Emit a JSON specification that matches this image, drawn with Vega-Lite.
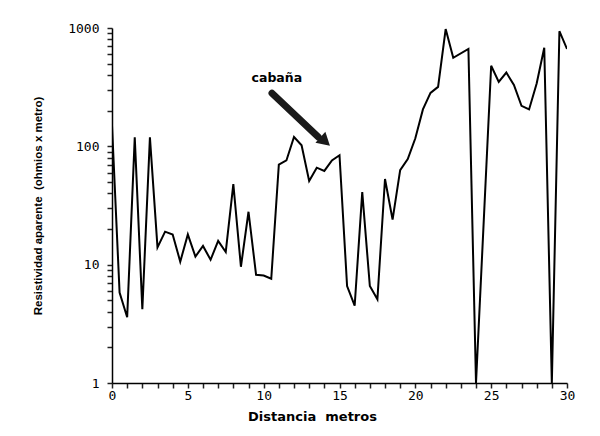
{
  "$schema": "https://vega.github.io/schema/vega-lite/v6.json",
  "width": 455,
  "height": 355,
  "autosize": {"type": "none"},
  "padding": {"left": 112, "top": 28, "right": 33, "bottom": 53},
  "background": "white",
  "config": {"view": {"stroke": null}, "axis": {"ticks": true, "tickColor": "#222222", "tickSize": 5, "tickWidth": 1.5}},
  "datasets": {
    "perfil": [
      {"d": 0, "r": 150}, {"d": 0.5, "r": 5.8}, {"d": 1, "r": 3.6}, {"d": 1.5, "r": 119},
      {"d": 2, "r": 4.2}, {"d": 2.5, "r": 119}, {"d": 3, "r": 14}, {"d": 3.5, "r": 19},
      {"d": 4, "r": 18}, {"d": 4.5, "r": 10.6}, {"d": 5, "r": 18}, {"d": 5.5, "r": 11.7},
      {"d": 6, "r": 14.4}, {"d": 6.5, "r": 11}, {"d": 7, "r": 15.9}, {"d": 7.5, "r": 12.8},
      {"d": 8, "r": 48}, {"d": 8.5, "r": 9.6}, {"d": 9, "r": 28}, {"d": 9.5, "r": 8.2},
      {"d": 10, "r": 8.1}, {"d": 10.5, "r": 7.6}, {"d": 11, "r": 70}, {"d": 11.5, "r": 76},
      {"d": 12, "r": 120}, {"d": 12.5, "r": 102}, {"d": 13, "r": 51}, {"d": 13.5, "r": 66},
      {"d": 14, "r": 62}, {"d": 14.5, "r": 76}, {"d": 15, "r": 84}, {"d": 15.5, "r": 6.6},
      {"d": 16, "r": 4.5}, {"d": 16.5, "r": 41}, {"d": 17, "r": 6.6}, {"d": 17.5, "r": 5.1},
      {"d": 18, "r": 53}, {"d": 18.5, "r": 24}, {"d": 19, "r": 63}, {"d": 19.5, "r": 78},
      {"d": 20, "r": 117}, {"d": 20.5, "r": 205}, {"d": 21, "r": 283}, {"d": 21.5, "r": 318},
      {"d": 22, "r": 980}, {"d": 22.5, "r": 560}, {"d": 23.5, "r": 665}, {"d": 24, "r": 1.0},
      {"d": 25, "r": 480}, {"d": 25.5, "r": 350}, {"d": 26, "r": 420}, {"d": 26.5, "r": 330},
      {"d": 27, "r": 220}, {"d": 27.5, "r": 205}, {"d": 28, "r": 340}, {"d": 28.5, "r": 680},
      {"d": 29, "r": 1.0}, {"d": 29.5, "r": 940}, {"d": 30, "r": 665}
    ],
    "flecha": [
      {"d": 10.55, "r": 281, "d2": 13.6, "r2": 120}
    ],
    "punta": [
      {"d": 13.95, "r": 113}
    ],
    "etiqueta": [
      {"d": 10.87, "r": 380, "texto": "cabaña"}
    ]
  },
  "layer": [
    {
      "data": {"name": "perfil"},
      "mark": {"type": "line", "color": "black", "strokeWidth": 2, "clip": true},
      "encoding": {
        "x": {
          "field": "d", "type": "quantitative",
          "scale": {"domain": [0, 30], "nice": false, "zero": false},
          "axis": {
            "title": "Distancia\u00a0 metros",
            "tickCount": 30,
            "labelExpr": "datum.value % 5 === 0 ? datum.label : ''",
            "format": "d",
            "grid": false,
            "domainColor": "black", "domainWidth": 1.5,
            "labelFont": "DejaVu Sans Mono", "labelFontSize": 13, "labelColor": "black",
            "labelPadding": 1, "labelOverlap": false, "labelFlush": false,
            "titleFont": "DejaVu Sans", "titleFontWeight": "bold", "titleFontSize": 13,
            "titleColor": "black", "titlePadding": 8, "titleX": 200
          }
        },
        "y": {
          "field": "r", "type": "quantitative",
          "scale": {"type": "log", "domain": [1, 1000], "nice": false},
          "axis": {
            "title": "Resistividad aparente\u00a0 (ohmios x metro)",
            "tickCount": 40,
            "labelExpr": "indexof([1,10,100,1000], datum.value) >= 0 ? datum.label : ''",
            "format": "d",
            "grid": false,
            "domainColor": "black", "domainWidth": 1.5,
            "labelFont": "DejaVu Sans Mono", "labelFontSize": 13, "labelColor": "black",
            "labelPadding": 8, "labelOverlap": false, "labelFlush": false,
            "titleFont": "Liberation Sans", "titleFontWeight": "bold", "titleFontSize": 11.5,
            "titleColor": "black", "titlePadding": 24
          }
        }
      }
    },
    {
      "data": {"name": "flecha"},
      "mark": {"type": "rule", "color": "#1a1a1a", "strokeWidth": 7, "strokeCap": "round"},
      "encoding": {
        "x": {"field": "d", "type": "quantitative"},
        "y": {"field": "r", "type": "quantitative"},
        "x2": {"field": "d2"},
        "y2": {"field": "r2"}
      }
    },
    {
      "data": {"name": "punta"},
      "mark": {"type": "point", "shape": "triangle", "filled": true, "color": "#1a1a1a", "opacity": 1, "size": 220, "angle": 132},
      "encoding": {
        "x": {"field": "d", "type": "quantitative"},
        "y": {"field": "r", "type": "quantitative"}
      }
    },
    {
      "data": {"name": "etiqueta"},
      "mark": {"type": "text", "font": "DejaVu Sans", "fontWeight": "bold", "fontSize": 12.5, "color": "black", "align": "center", "baseline": "middle"},
      "encoding": {
        "x": {"field": "d", "type": "quantitative"},
        "y": {"field": "r", "type": "quantitative"},
        "text": {"field": "texto"}
      }
    }
  ]
}
